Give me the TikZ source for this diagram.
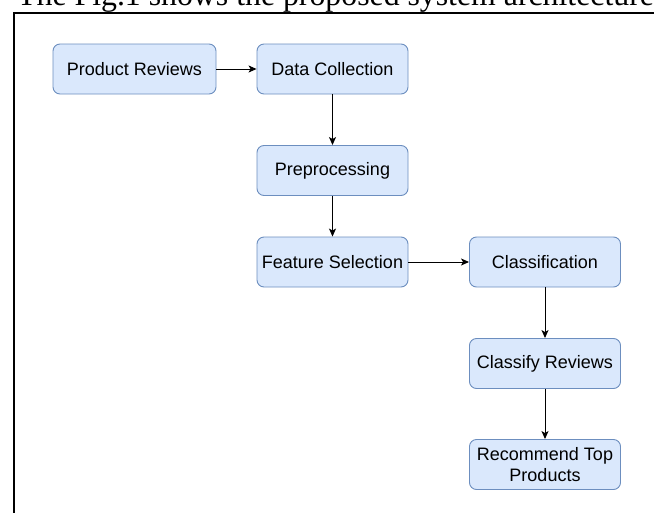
\documentclass[tikz,border=0pt]{standalone}
\usepackage{fontspec}
\setmainfont{Liberation Sans}
\newfontfamily\captionserif{Liberation Serif}
\usetikzlibrary{arrows.meta}
\definecolor{stagefill}{HTML}{DAE8FC}
\definecolor{stageline}{HTML}{6C8EBF}
\begin{document}
\begin{tikzpicture}[x=1pt, y=-1pt,
        stage/.style = {shape=rectangle, rounded corners=7pt, draw=stageline, fill=stagefill,
                        line width=0.9pt, minimum width=151pt, minimum height=50pt, inner sep=0pt,
                        align=center, font=\fontsize{18pt}{21pt}\selectfont},
        flow/.style = {-{Stealth[length=8pt, width=7pt, inset=2pt]}, line width=1pt}]
    \useasboundingbox (0,0) rectangle (654,512);
    \clip (0,0) rectangle (654,512);
    % running text above and the frame, cut by the page edge
    \node[anchor=base west, inner sep=0pt, font=\captionserif\fontsize{31.8pt}{36pt}\selectfont]
        (caption) at (17,5.5) {The Fig.1 shows the proposed system architecture};
    \draw[line width=1.3pt] (700,13) -- (14,13) -- (14,560);
    % stages
    \node[stage, minimum width=163pt] (reviews) at (134.5,69) {Product Reviews};
    \node[stage] (collect) at (332.5,69) {Data Collection};
    \node[stage] (prep) at (332.5,170.5) {Preprocessing};
    \node[stage] (select) at (332.5,262) {Feature Selection};
    \node[stage] (classif) at (545,262) {Classification};
    \node[stage] (classify) at (545,363.5) {Classify Reviews};
    \node[stage] (recommend) at (545,464.5) {Recommend Top\\Products};
    % arrows
    \draw[flow] (reviews) -- (collect);
    \draw[flow] (collect) -- (prep);
    \draw[flow] (prep) -- (select);
    \draw[flow] (select) -- (classif);
    \draw[flow] (classif) -- (classify);
    \draw[flow] (classify) -- (recommend);
\end{tikzpicture}
\end{document}
